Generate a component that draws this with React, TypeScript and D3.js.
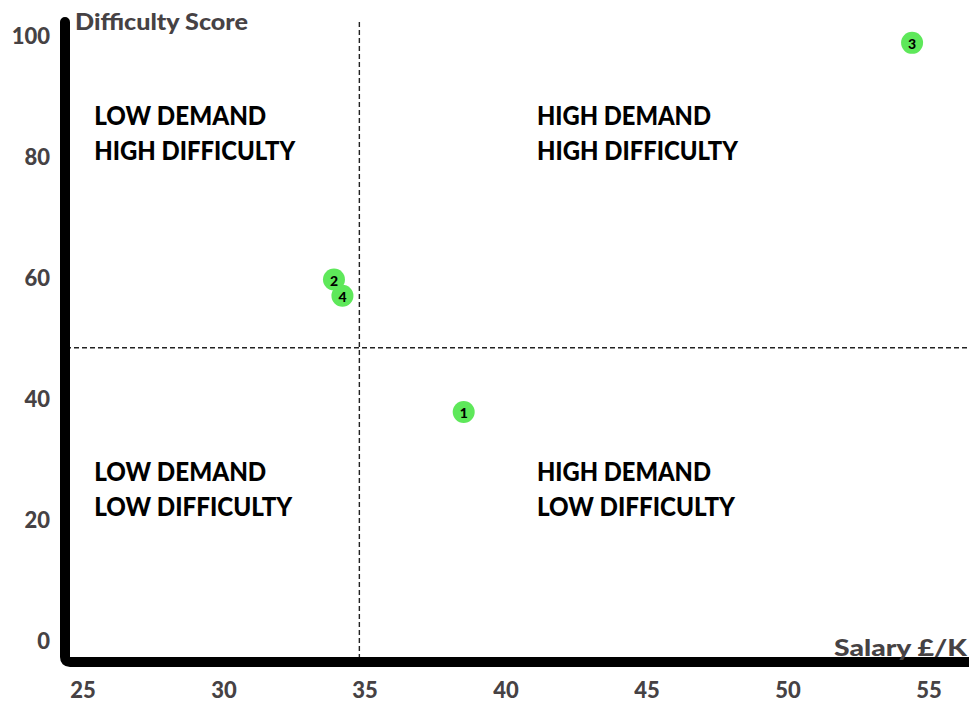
import React from "react";
import * as d3 from "d3";

const W = 969;
const H = 702;

const xTicks = [25, 30, 35, 40, 45, 50, 55];
const yTicks = [0, 20, 40, 60, 80, 100];

const pointIds = ["1", "2", "3", "4"];
const salaries = [38.5, 33.9, 54.4, 34.2];
const difficulty = [37.7, 59.6, 98.7, 56.9];

const salaryThreshold = 34.8;
const difficultyThreshold = 48.3;

const quadrantLines = [
  ["LOW DEMAND", "HIGH DIFFICULTY"],
  ["HIGH DEMAND", "HIGH DIFFICULTY"],
  ["LOW DEMAND", "LOW DIFFICULTY"],
  ["HIGH DEMAND", "LOW DIFFICULTY"],
];
const quadrantX = [25.4, 41.1, 25.4, 41.1];
const quadrantY = [85.2, 85.2, 26.2, 26.2];

export default function App() {
  const x = d3.scaleLinear().domain([25, 55]).range([83, 929]);
  const y = d3.scaleLinear().domain([0, 100]).range([640, 35]);
  const font = "'Lato', 'Open Sans', sans-serif";
  const grey = "#464244";

  const widthFor = (s: string) => {
    const map: Record<string, number> = {
      "LOW DEMAND": 172,
      "HIGH DEMAND": 174,
      "HIGH DIFFICULTY": 201,
      "LOW DIFFICULTY": 198,
    };
    return map[s];
  };

  return (
    <svg
      width={W}
      height={H}
      style={{ position: "absolute", left: 0, top: 0, background: "#fff" }}
      fontFamily={font}
    >
      {/* dashed guides */}
      <line
        x1={x(salaryThreshold)}
        x2={x(salaryThreshold)}
        y1={22}
        y2={662}
        stroke="#222"
        strokeWidth={1.4}
        strokeDasharray="5,3"
      />
      <line
        x1={66}
        x2={969}
        y1={y(difficultyThreshold)}
        y2={y(difficultyThreshold)}
        stroke="#222"
        strokeWidth={1.4}
        strokeDasharray="5,3"
      />

      {/* axes */}
      <path
        d={`M65,22 L65,657 Q65,662 70,662 L969,662`}
        fill="none"
        stroke="#000"
        strokeWidth={10}
        strokeLinecap="round"
        strokeLinejoin="round"
      />

      {/* y ticks */}
      {yTicks.map((t) => (
        <text
          key={t}
          x={50}
          y={y(t)}
          textAnchor="end"
          dominantBaseline="central"
          fontSize={22}
          fontWeight={900}
          fill={grey}
        >
          {t}
        </text>
      ))}
      {/* x ticks */}
      {xTicks.map((t) => (
        <text
          key={t}
          x={x(t)}
          y={689}
          textAnchor="middle"
          dominantBaseline="central"
          fontSize={22}
          fontWeight={900}
          fill={grey}
        >
          {t}
        </text>
      ))}

      {/* axis titles */}
      <text x={75} y={30} fontSize={22} fontWeight={900} fill={grey} textLength={173} lengthAdjust="spacingAndGlyphs">
        Difficulty Score
      </text>
      <text x={967} y={656} textAnchor="end" fontSize={23} fontWeight={900} fill={grey} textLength={133} lengthAdjust="spacingAndGlyphs">
        Salary £/K
      </text>

      {/* quadrant labels */}
      {quadrantLines.map((lines, i) =>
        lines.map((s, j) => (
          <text
            key={`${i}-${j}`}
            x={x(quadrantX[i])}
            y={y(quadrantY[i]) + j * 35}
            fontSize={26}
            fontWeight={900}
            fill="#000"
            textLength={widthFor(s)}
            lengthAdjust="spacingAndGlyphs"
          >
            {s}
          </text>
        ))
      )}

      {/* points */}
      {pointIds.map((id, i) => (
        <g key={id} transform={`translate(${x(salaries[i])},${y(difficulty[i])})`}>
          <circle r={11} fill="#5ee85a" />
          <text
            y={1}
            textAnchor="middle"
            dominantBaseline="central"
            fontSize={14}
            fontWeight={900}
            fill="#000"
          >
            {id}
          </text>
        </g>
      ))}
    </svg>
  );
}
